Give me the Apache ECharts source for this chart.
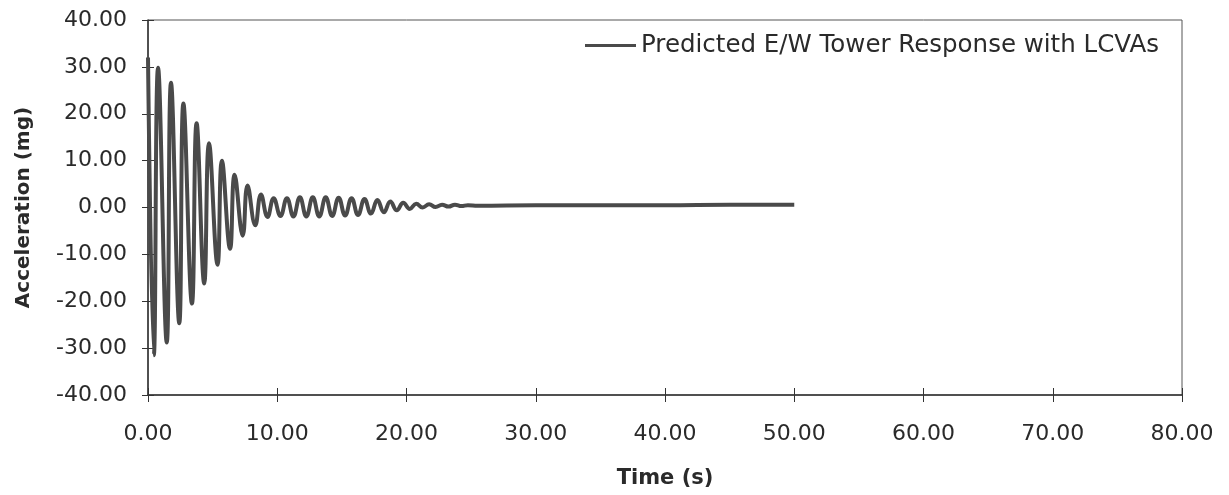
<!DOCTYPE html>
<html>
<head>
<meta charset="utf-8">
<script src="https://cdn.jsdelivr.net/npm/echarts@6/dist/echarts.min.js"></script>
<style>
html,body{margin:0;padding:0;background:#fff;}
#chart{width:1229px;height:495px;}
</style>
</head>
<body>
<div id="chart"></div>
<script>
// Time (s) of each read point
const timeS = [
  0.00, 0.45, 0.78, 1.45, 1.78, 2.42, 2.74, 3.40, 3.76, 4.35,
  4.72, 5.38, 5.72, 6.35, 6.70, 7.33, 7.70, 8.30, 8.74, 9.25,
  9.72, 10.25, 10.75, 11.25, 11.75, 12.25, 12.75, 13.25, 13.75, 14.25,
  14.75, 15.25, 15.75, 16.25, 16.75, 17.25, 17.75, 18.25, 18.75, 19.25,
  19.75, 20.25, 20.75, 21.25, 21.75, 22.25, 22.75, 23.25, 23.75, 24.25,
  24.75, 25.50, 30.00, 35.00, 40.00, 45.00, 50.00
];
// Acceleration (mg) at each read point
const accelMg = [
  32.0, -31.5, 29.8, -28.8, 26.6, -24.7, 22.2, -20.5, 18.0, -16.2,
  13.7, -12.2, 10.0, -8.8, 7.0, -6.0, 4.7, -3.8, 2.8, -2.0,
  2.0, -1.8, 2.0, -1.9, 2.2, -1.9, 2.2, -1.9, 2.2, -1.8,
  2.1, -1.7, 2.0, -1.6, 1.8, -1.3, 1.6, -1.0, 1.3, -0.6,
  1.0, -0.3, 0.8, 0.0, 0.7, 0.1, 0.6, 0.2, 0.6, 0.3,
  0.5, 0.4, 0.5, 0.5, 0.5, 0.6, 0.6
];
const seriesName = 'Predicted E/W Tower Response with LCVAs';
const xTitle = 'Time (s)';
const yTitle = 'Acceleration (mg)';
const xMin = 0, xMax = 80, xStep = 10;
const yMin = -40, yMax = 40, yStep = 10;

const points = timeS.map((t, i) => [t, accelMg[i]]);
const txt = '#2a2a2a';
const font = 'DejaVu Sans';
const fmt = v => v.toFixed(2);

const chart = echarts.init(document.getElementById('chart'), null, {renderer: 'canvas'});
chart.setOption({
  backgroundColor: '#ffffff',
  animation: false,
  grid: {left: 148, right: 47, top: 20, bottom: 100, show: true, borderColor: '#555', borderWidth: 1},
  legend: {
    data: [seriesName],
    left: 585, top: 33, padding: 0,
    icon: 'rect', itemWidth: 51, itemHeight: 3,
    textStyle: {color: txt, fontFamily: font, fontSize: 24.5}
  },
  xAxis: [{
    type: 'value', min: xMin, max: xMax, interval: xStep,
    name: xTitle, nameLocation: 'middle', nameGap: 73,
    nameTextStyle: {color: txt, fontFamily: font, fontSize: 21, fontWeight: 'bold'},
    axisLine: {show: true, onZero: false, lineStyle: {color: '#333', width: 1.5}},
    axisTick: {show: true, length: 7, lineStyle: {color: '#333', width: 1}},
    axisLabel: {color: txt, fontFamily: font, fontSize: 22, margin: 28, formatter: fmt},
    splitLine: {show: false}
  }, {
    type: 'value', min: xMin, max: xMax, interval: xStep, position: 'bottom',
    axisLine: {show: false, onZero: false},
    axisTick: {show: true, inside: true, length: 7, lineStyle: {color: '#333', width: 1}},
    axisLabel: {show: false}, splitLine: {show: false}
  }],
  yAxis: [{
    type: 'value', min: yMin, max: yMax, interval: yStep,
    name: yTitle, nameLocation: 'middle', nameGap: 114, nameRotate: 90,
    nameTextStyle: {color: txt, fontFamily: font, fontSize: 20, fontWeight: 'bold'},
    axisLine: {show: true, onZero: false, lineStyle: {color: '#333', width: 1.5}},
    axisTick: {show: true, length: 6, lineStyle: {color: '#333', width: 1}},
    axisLabel: {color: txt, fontFamily: font, fontSize: 22, margin: 21, formatter: fmt},
    splitLine: {show: false}
  }, {
    type: 'value', min: yMin, max: yMax, interval: yStep, position: 'left',
    axisLine: {show: false, onZero: false},
    axisTick: {show: true, inside: true, length: 6, lineStyle: {color: '#333', width: 1}},
    axisLabel: {show: false}, splitLine: {show: false}
  }],
  series: [{
    name: seriesName, type: 'line', xAxisIndex: 0, yAxisIndex: 0,
    data: points, smooth: 0.45, showSymbol: false, symbol: 'none',
    itemStyle: {color: '#4a4a4a'},
    lineStyle: {color: '#4a4a4a', width: 4}
  }]
});
</script>
</body>
</html>
